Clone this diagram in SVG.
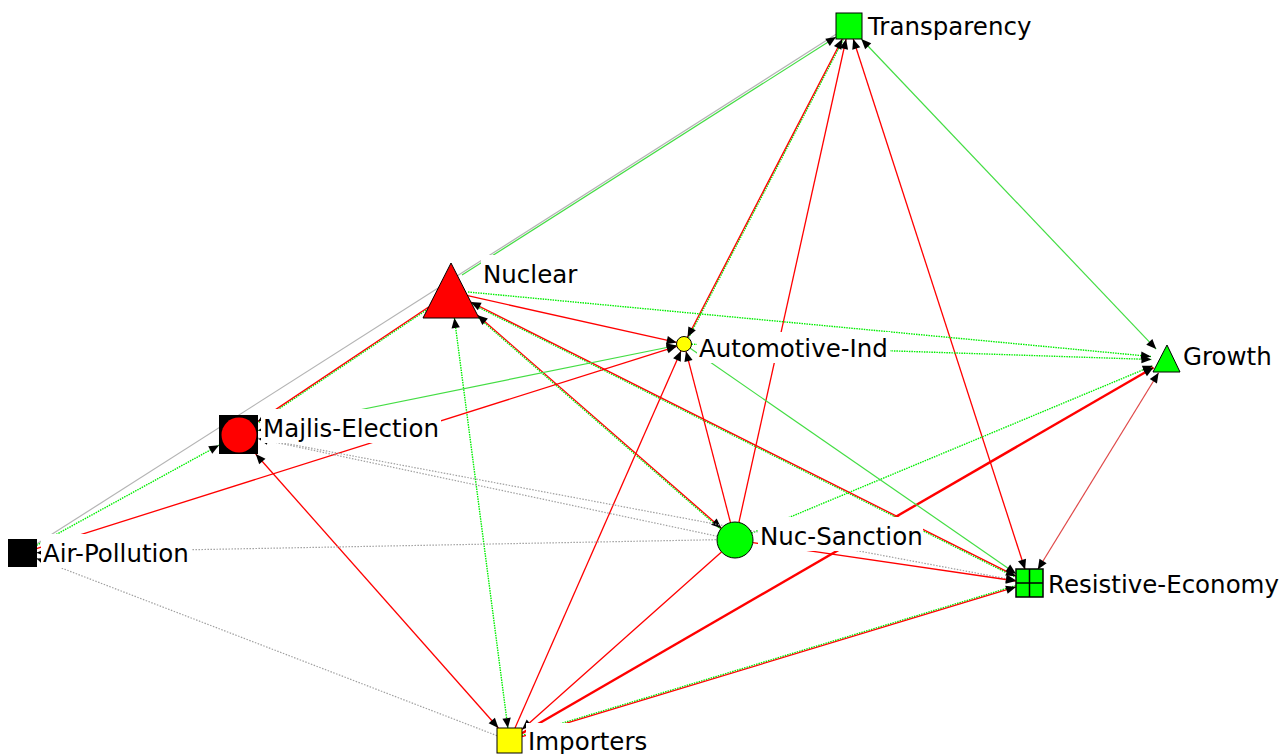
<svg xmlns="http://www.w3.org/2000/svg" width="1284" height="754" viewBox="0 0 1284 754">
<style>
line{fill:none}
.r{stroke:#ff0000;stroke-width:1.3}
.rt{stroke:#ff0000;stroke-width:2.4}
.rl{stroke:#e04848;stroke-width:1.2}
.g{stroke:#44dd44;stroke-width:1.2}
.gd{stroke:#00ee00;stroke-width:1.4;stroke-dasharray:1.5 1}
.k{stroke:#b4b4b4;stroke-width:1.2}
.kd{stroke:#a0a0a0;stroke-width:1.2;stroke-dasharray:1.5 1.5}
.box{fill:#ffffff}
.lbl{font-family:"DejaVu Sans",Verdana,sans-serif;font-size:24.5px;fill:#000}
.nd{stroke:#000;stroke-width:1}
</style>
<defs>
<marker id="ah" markerUnits="userSpaceOnUse" markerWidth="12" markerHeight="10" refX="0" refY="0" orient="auto-start-reverse" overflow="visible">
<path d="M0,0 L-10,-4.2 L-10,4.2 Z" fill="#000"/>
</marker>
</defs>
<g id="edges">
<line class="g" x1="861.3" y1="39" x2="1156.2" y2="349.1" marker-start="url(#ah)" marker-end="url(#ah)"/>
<line class="r" x1="853.2" y1="39" x2="1025.1" y2="569.5" marker-start="url(#ah)" marker-end="url(#ah)"/>
<line class="r" x1="738.9" y1="522.4" x2="846.1" y2="39" marker-end="url(#ah)"/>
<line class="gd" x1="688.5" y1="337.8" x2="843.3" y2="39.5"/>
<line class="r" x1="687.5" y1="337.3" x2="842.3" y2="39" marker-start="url(#ah)" marker-end="url(#ah)"/>
<line class="k" x1="36.5" y1="544.1" x2="836" y2="34.3"/>
<line class="g" x1="462" y1="275" x2="836" y2="37" marker-end="url(#ah)"/>
<line class="gd" x1="468" y1="292" x2="1151" y2="356.5" marker-end="url(#ah)"/>
<line class="gd" x1="691.5" y1="344.2" x2="1151.5" y2="359.5" marker-end="url(#ah)"/>
<line class="gd" x1="751.6" y1="533.1" x2="1152.7" y2="365.8" marker-end="url(#ah)"/>
<line class="rt" x1="522" y1="733.3" x2="1153.5" y2="367.5" marker-end="url(#ah)"/>
<line class="rl" x1="1037.8" y1="569.5" x2="1158.6" y2="372.8" marker-start="url(#ah)" marker-end="url(#ah)"/>
<line class="r" x1="467.6" y1="295.7" x2="676.7" y2="342.4" marker-end="url(#ah)"/>
<line class="gd" x1="476.8" y1="316.1" x2="720.6" y2="529.1"/>
<line class="r" x1="477.6" y1="315.2" x2="721.4" y2="528.2" marker-start="url(#ah)" marker-end="url(#ah)"/>
<line class="gd" x1="470.3" y1="303.1" x2="1015.5" y2="577.3"/>
<line class="r" x1="470.8" y1="302" x2="1016" y2="576.2" marker-start="url(#ah)" marker-end="url(#ah)"/>
<line class="gd" x1="507.9" y1="728" x2="454.4" y2="318" marker-start="url(#ah)" marker-end="url(#ah)"/>
<line class="gd" x1="258.7" y1="422.4" x2="429.3" y2="308"/>
<line class="r" x1="258" y1="421.4" x2="428.6" y2="307" marker-start="url(#ah)"/>
<line class="g" x1="258" y1="430.5" x2="676.6" y2="345.5" marker-start="url(#ah)" marker-end="url(#ah)"/>
<line class="r" x1="36.5" y1="548.6" x2="676.8" y2="346.3" marker-end="url(#ah)"/>
<line class="r" x1="515" y1="728" x2="681" y2="350.9" marker-end="url(#ah)"/>
<line class="r" x1="730.5" y1="522.6" x2="686" y2="351.3" marker-end="url(#ah)"/>
<line class="g" x1="690.2" y1="348.3" x2="1016" y2="573.7" marker-end="url(#ah)"/>
<line class="r" x1="498.4" y1="728" x2="255.7" y2="454" marker-start="url(#ah)" marker-end="url(#ah)"/>
<line class="kd" x1="258" y1="438.6" x2="717.4" y2="536.3" marker-start="url(#ah)"/>
<line class="kd" x1="258" y1="438.2" x2="1016" y2="580.5" marker-end="url(#ah)"/>
<line class="kd" x1="36.5" y1="552.7" x2="717" y2="539.7" marker-start="url(#ah)"/>
<line class="kd" x1="36.5" y1="558.4" x2="497" y2="735.7" marker-start="url(#ah)"/>
<line class="r" x1="752.8" y1="542.6" x2="1016" y2="581" marker-end="url(#ah)"/>
<line class="r" x1="721.5" y1="552" x2="522" y2="729.4" marker-end="url(#ah)"/>
<line class="gd" x1="521.6" y1="735.5" x2="1015.6" y2="585.7"/>
<line class="r" x1="522" y1="736.7" x2="1016" y2="586.9" marker-end="url(#ah)"/>
<line class="gd" x1="36.5" y1="545.3" x2="219" y2="445.2" marker-end="url(#ah)"/>
</g>
<g id="label-boxes">
<rect class="box" x="866" y="7" width="172" height="34"/>
<rect class="box" x="481" y="255" width="99" height="34"/>
<rect class="box" x="697" y="332" width="193" height="31"/>
<rect class="box" x="1181" y="337" width="96" height="34"/>
<rect class="box" x="261" y="409" width="180" height="34"/>
<rect class="box" x="41" y="534" width="150" height="34"/>
<rect class="box" x="758" y="517" width="165" height="34"/>
<rect class="box" x="1046" y="565" width="236" height="34"/>
<rect class="box" x="526" y="723" width="126" height="31"/>
</g>
<g id="node-transparency">
<rect class="nd" x="836" y="13" width="26" height="26" fill="#00ff00"/>
<text class="lbl" x="868" y="35">Transparency</text>
</g>
<g id="node-nuclear">
<polygon class="nd" points="451,263 423,318 479,318" fill="#ff0000"/>
<text class="lbl" x="483" y="283">Nuclear</text>
</g>
<g id="node-automotive-ind">
<circle class="nd" cx="684" cy="344" r="7.5" fill="#ffff00"/>
<text class="lbl" x="699" y="357">Automotive-Ind</text>
</g>
<g id="node-growth">
<polygon class="nd" points="1167,345 1153,372 1180,372" fill="#00ff00"/>
<text class="lbl" x="1183" y="365">Growth</text>
</g>
<g id="node-majlis-election">
<rect x="219" y="415" width="39" height="39" fill="#000"/>
<circle cx="239" cy="435" r="17.5" fill="#ff0000"/>
<text class="lbl" x="263" y="437">Majlis-Election</text>
</g>
<g id="node-air-pollution">
<rect x="8" y="539" width="29" height="28" fill="#000"/>
<text class="lbl" x="43" y="562">Air-Pollution</text>
</g>
<g id="node-nuc-sanction">
<circle class="nd" cx="735" cy="540" r="18" fill="#00ff00"/>
<text class="lbl" x="760" y="545">Nuc-Sanction</text>
</g>
<g id="node-resistive-economy">
<rect x="1016" y="569" width="27" height="28" fill="#00ff00" stroke="#000" stroke-width="1.5"/>
<path d="M1029.5,569 V597 M1016,583 H1043" stroke="#000" stroke-width="1.5" fill="none"/>
<text class="lbl" x="1048" y="593">Resistive-Economy</text>
</g>
<g id="node-importers">
<rect class="nd" x="497" y="728" width="25" height="25" fill="#ffff00"/>
<text class="lbl" x="528" y="750">Importers</text>
</g>
</svg>
